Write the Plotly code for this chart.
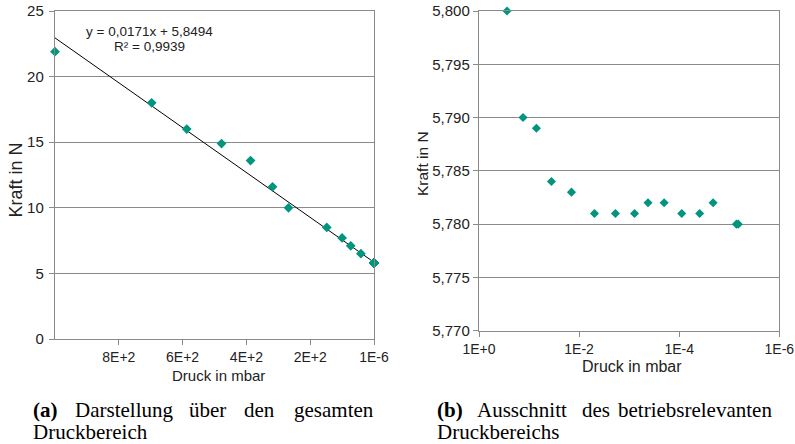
import numpy as np
import plotly.graph_objects as go

# ---- data ----
# (a) full pressure range, mbar / N
druck_a_hoch = [1000, 697, 587, 478, 387, 318, 268, 148, 100, 73, 41]
kraft_a_hoch = [21.9, 18.0, 16.0, 14.9, 13.6, 11.6, 10.0, 8.5, 7.7, 7.1, 6.5]

# (b) operating range, mbar / N
druck_b = [0.275, 0.132, 0.0713, 0.0357, 0.0142, 4.93e-3, 1.88e-3, 7.8e-4,
           4.2e-4, 2.0e-4, 8.9e-5, 3.9e-5, 2.1e-5, 7.2e-6, 6.6e-6]
kraft_b = [5.800, 5.790, 5.789, 5.784, 5.783, 5.781, 5.781, 5.781,
           5.782, 5.782, 5.781, 5.781, 5.782, 5.780, 5.780]

# linear trend of (a)
trend_slope = 0.0171
trend_intercept = 5.8494
trend_x = [1000, 0]

ticks_a_vals = [800, 600, 400, 200, 0]
ticks_a_text = ["8E+2", "6E+2", "4E+2", "2E+2", "1E-6"]
ticks_b_vals = [1, 1e-2, 1e-4, 1e-6]
ticks_b_text = ["1E+0", "1E-2", "1E-4", "1E-6"]

# ---- figure ----
W, H = 795, 444
GRAY = "#8a8a8a"
TEAL = "#00957e"
TXT = "#222222"


def px(x):
    return x / W


def py(y):
    return 1 - y / H


druck_a = druck_a_hoch + druck_b
kraft_a = kraft_a_hoch + kraft_b
trend_y = list(trend_slope * np.array(trend_x) + trend_intercept)

fig = go.Figure()
fig.add_trace(go.Scatter(x=trend_x, y=trend_y, mode="lines",
                         line=dict(color="black", width=1),
                         xaxis="x", yaxis="y", showlegend=False, hoverinfo="skip"))
fig.add_trace(go.Scatter(x=druck_a, y=kraft_a, mode="markers",
                         marker=dict(symbol="diamond", size=7.5, color=TEAL),
                         cliponaxis=False, xaxis="x", yaxis="y", showlegend=False))
fig.add_trace(go.Scatter(x=druck_b, y=kraft_b, mode="markers",
                         marker=dict(symbol="diamond", size=7, color=TEAL),
                         cliponaxis=False, xaxis="x2", yaxis="y2", showlegend=False))

axis_common = dict(showline=True, linecolor=GRAY, linewidth=1.4, mirror=True,
                   ticks="outside", ticklen=5, tickcolor=GRAY, tickwidth=1.4,
                   zeroline=False, automargin=False)

fig.update_layout(
    width=W, height=H, autosize=False,
    margin=dict(l=0, r=0, t=0, b=0, pad=0, autoexpand=False),
    paper_bgcolor="white", plot_bgcolor="white",
    separators=",.",
    font=dict(family="Liberation Sans, Arial, sans-serif", color=TXT),
    xaxis=dict(domain=[px(55), px(374)], range=[1000, 0], anchor="y",
               tickvals=ticks_a_vals, ticktext=ticks_a_text, showgrid=False,
               tickfont=dict(size=14, color=TXT), **axis_common),
    yaxis=dict(domain=[py(339), py(11)], range=[0, 25], dtick=5, anchor="x",
               showgrid=True, gridcolor=GRAY, gridwidth=1.4,
               tickfont=dict(size=15, color=TXT), ticklabelstandoff=2, **axis_common),
    xaxis2=dict(domain=[px(479), px(779.3)], type="log", range=[0, -6], anchor="y2",
                tickvals=ticks_b_vals, ticktext=ticks_b_text, showgrid=False,
                tickfont=dict(size=14, color=TXT), **axis_common),
    yaxis2=dict(domain=[py(330.7), py(11)], range=[5.770, 5.800], dtick=0.005,
                tickformat=".3f", anchor="x2", showgrid=True, gridcolor=GRAY,
                gridwidth=1.4, tickfont=dict(size=15, color=TXT), **axis_common),
)

ann = []


def add(text, x, y, size, xanchor="center", angle=0, family=None, color=TXT):
    a = dict(text=text, x=px(x), y=py(y), xref="paper", yref="paper",
             xanchor=xanchor, yanchor="middle", showarrow=False, textangle=angle,
             borderpad=0, font=dict(size=size, color=color))
    if family:
        a["font"]["family"] = family
    ann.append(a)


# axis titles
add("Kraft in N", 15.5, 180, 18, angle=-90)
add("Druck in mbar", 218, 375, 15)
add("Kraft in N", 422, 164, 15.5, angle=-90)
add("Druck in mbar", 631.7, 366.7, 16)

# trend line label
add("y = 0,0171x + 5,8494", 149, 31.7, 13.5)
add("R² = 0,9939", 149, 46.7, 13.5)

# captions
SERIF = "Liberation Serif, Times New Roman, serif"
Y1, Y2 = 410, 432
cap_words = [
    ("<b>(a)</b>", 31.7, Y1, "left"), ("Darstellung", 74, Y1, "left"),
    ("über", 188, Y1, "left"), ("den", 243, Y1, "left"),
    ("gesamten", 375, Y1, "right"), ("Druckbereich", 31.7, Y2, "left"),
    ("<b>(b)</b>", 436, Y1, "left"), ("Ausschnitt", 476, Y1, "left"),
    ("des", 581, Y1, "left"), ("betriebsrelevanten", 772.7, Y1, "right"),
    ("Druckbereichs", 436, Y2, "left"),
]
for t, x, y, xa in cap_words:
    add(t, x, y, 21, xanchor=xa, family=SERIF, color="black")

fig.update_layout(annotations=ann)
fig.write_html(
    "out.html",
    config={"displayModeBar": False},
    post_script="document.body.style.margin='0';document.body.style.overflow='hidden';",
)
